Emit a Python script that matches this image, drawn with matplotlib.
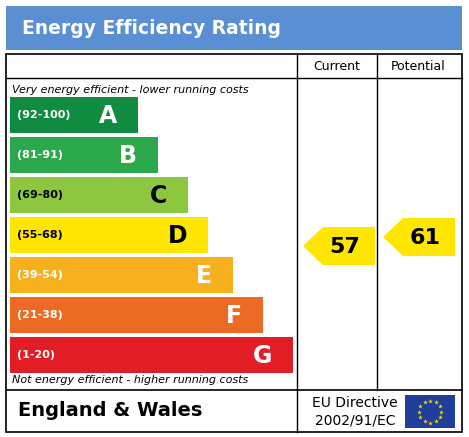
import matplotlib
matplotlib.use("Agg")
import matplotlib.pyplot as plt
from matplotlib.patches import Rectangle, Polygon
import numpy as np

bands = ["A", "B", "C", "D", "E", "F", "G"]
ranges = ["(92-100)", "(81-91)", "(69-80)", "(55-68)", "(39-54)", "(21-38)", "(1-20)"]
colors = ["#0f8c3f", "#2ba84a", "#8dc63f", "#ffe600", "#f7b01e", "#ec6b24", "#e31d25"]
bar_right = [138, 158, 188, 208, 233, 263, 293]
current = 57
potential = 61

fig = plt.figure(figsize=(4.69, 4.37), dpi=100)
ax = fig.add_axes([0, 0, 1, 1])
ax.set_xlim(0, 469); ax.set_ylim(437, 0); ax.axis("off")

# header
ax.add_patch(Rectangle((6, 6), 456, 44, facecolor="#5b8fd3", edgecolor="none"))
ax.text(22, 29, "Energy Efficiency Rating", color="white", fontsize=13.5, fontweight="bold", va="center")

# main box
ax.add_patch(Rectangle((6, 54), 456, 378, facecolor="white", edgecolor="black", lw=1.2))
ax.plot([6, 462], [78, 78], color="black", lw=1)
ax.plot([6, 462], [390, 390], color="black", lw=1.2)
ax.plot([297, 297], [54, 390], color="black", lw=1)
ax.plot([377, 377], [54, 390], color="black", lw=1)
ax.plot([297, 297], [390, 432], color="black", lw=1)
ax.text(337, 66, "Current", fontsize=9, ha="center", va="center")
ax.text(418, 66, "Potential", fontsize=9, ha="center", va="center")

ax.text(12, 90, "Very energy efficient - lower running costs", fontsize=8, style="italic", va="center")
ax.text(12, 380, "Not energy efficient - higher running costs", fontsize=8, style="italic", va="center")

for i, (b, r, c, xr) in enumerate(zip(bands, ranges, colors, bar_right)):
    y0 = 97 + i * 40
    ax.add_patch(Rectangle((10, y0), xr - 10, 36, facecolor=c, edgecolor="none"))
    tc = "black" if b in ("C", "D") else "white"
    ax.text(17, y0 + 18, r, fontsize=8, fontweight="bold", color=tc, va="center")
    ax.text(xr - 21, y0 + 19, b, fontsize=17, fontweight="bold", color=tc, va="center", ha="right")

def arrow(x0, val):
    yc = 246 - 2.25 * (val - 57)
    h = 19
    pts = [(x0, yc), (x0 + 20, yc - h), (x0 + 72, yc - h), (x0 + 72, yc + h), (x0 + 20, yc + h)]
    ax.add_patch(Polygon(pts, closed=True, facecolor="#ffe600", edgecolor="none"))
    ax.text(x0 + 42, yc + 1, str(val), fontsize=16, fontweight="bold", ha="center", va="center")

arrow(303, current)
arrow(383, potential)

# footer
ax.text(18, 411, "England & Wales", fontsize=14, fontweight="bold", va="center")
ax.text(355, 403, "EU Directive", fontsize=10, ha="center", va="center")
ax.text(355, 421, "2002/91/EC", fontsize=10, ha="center", va="center")
ax.add_patch(Rectangle((405, 395), 50, 33, facecolor="#1f3f9a", edgecolor="none"))
ang = np.linspace(0, 2 * np.pi, 13)[:-1]
ax.scatter(430 + 11 * np.cos(ang), 411.5 + 11 * np.sin(ang), marker="*", s=12, color="#ffdd00", lw=0)

fig.savefig("out.png", dpi=100)
